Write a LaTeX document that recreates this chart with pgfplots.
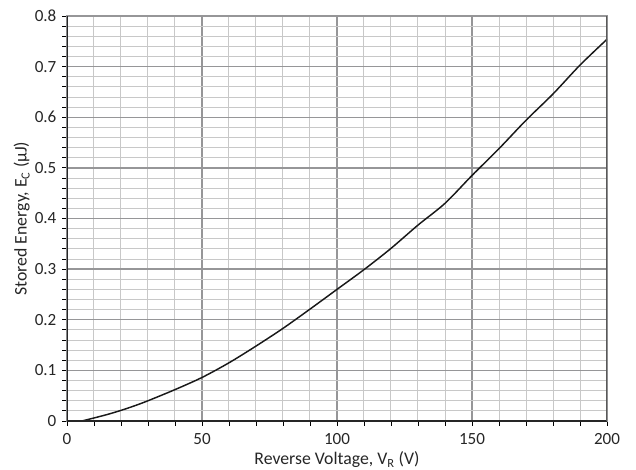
\documentclass[border=0pt]{standalone}
\usepackage{pgfplots}
\pgfplotsset{compat=1.18}
\usepackage{fontspec}
\setmainfont{Carlito}
\definecolor{majgrid}{RGB}{150,150,152}
\definecolor{mingrid}{RGB}{200,200,200}
\begin{document}
\fontsize{12.8}{15}\selectfont
\begin{tikzpicture}
\useasboundingbox (-50.25pt,-36pt) rectangle (426.75pt,315.75pt);
\begin{axis}[
  scale only axis,
  width=405pt, height=303.75pt,
  xmin=0, xmax=200, ymin=0, ymax=0.8,
  xtick={0,50,...,200},
  ytick={0,0.1,...,0.8},
  minor x tick num=4,
  minor y tick num=4,
  grid=both,
  major grid style={majgrid, line width=1pt},
  minor grid style={mingrid, line width=0.75pt},
  tick align=outside,
  tick pos=left,
  major tick length=3.5pt,
  minor tick length=3.5pt,
  tick style={black, line width=0.6pt},
  axis line style={majgrid, line width=1pt},
  /pgf/number format/assume math mode=true,
  yticklabel style={/pgf/number format/fixed, /pgf/number format/precision=1},
  xlabel={Reverse Voltage, V\textsubscript{R} (V)},
  ylabel={Stored Energy, E\textsubscript{C} (µJ)},
  every axis label/.append style={font=\fontsize{13.3}{15}\selectfont, text=black!85},
  ticklabel style={font=\fontsize{12.8}{15}\selectfont, text=black!85},
  xticklabel style={yshift=-1pt},
  xlabel style={yshift=3pt},
  ylabel style={yshift=-5pt},
]
\addplot[black!90, line width=1.1pt, smooth] coordinates {
(5.5,0) (10,0.006) (15,0.013) (20,0.021) (25,0.030) (30,0.040) (40,0.062)
(50,0.086) (60,0.115) (70,0.148) (80,0.183) (90,0.221) (100,0.260)
(110,0.299) (120,0.341) (130,0.387) (140,0.430) (150,0.485) (160,0.538)
(170,0.594) (180,0.646) (190,0.703) (200,0.754)
};
\draw[black!85, line width=1pt] (rel axis cs:0,1) -- (rel axis cs:0,0) -- (rel axis cs:1,0);
\draw[black!65, line width=1pt] (rel axis cs:1,0) -- (rel axis cs:1,1);
\end{axis}
\end{tikzpicture}
\end{document}
